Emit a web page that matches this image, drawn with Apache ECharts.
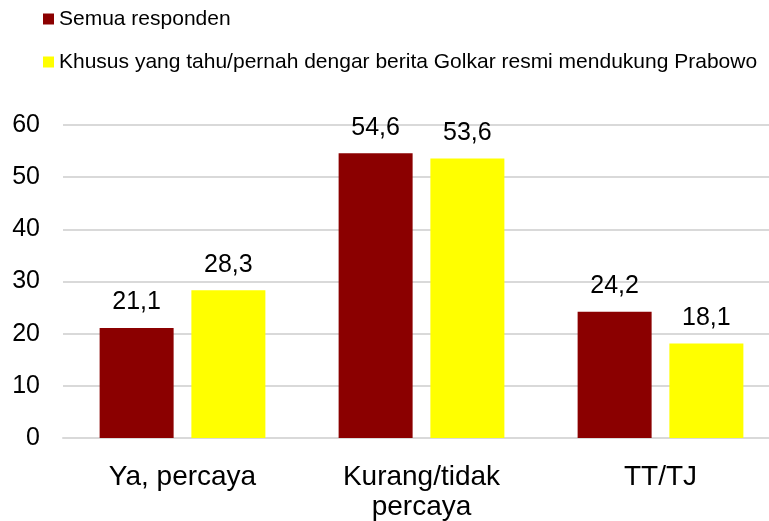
<!DOCTYPE html>
<html>
<head>
<meta charset="utf-8">
<script src="https://cdn.jsdelivr.net/npm/echarts@6/dist/echarts.min.js"></script>
<style>
  html, body { margin: 0; padding: 0; background: #fff; }
  #chart { width: 769px; height: 521px; }
</style>
</head>
<body>
<div id="chart"></div>
<script>
// --- Data ---
const categories = ['Ya, percaya', 'Kurang/tidak\npercaya', 'TT/TJ'];
const seriesNames = [
  'Semua responden',
  'Khusus yang tahu/pernah dengar berita Golkar resmi mendukung Prabowo'
];
const semuaResponden = [21.1, 54.6, 24.2];
const khususTahu = [28.3, 53.6, 18.1];
const yTicks = { min: 0, max: 60, interval: 10 };

const colors = ['#8B0000', '#FFFF00'];
const font = 'Liberation Sans, Arial, sans-serif';
const gridColor = '#D9D9D9';

function legendAt(name, top) {
  return {
    data: [name],
    left: 38,
    top: top,
    orient: 'vertical',
    icon: 'rect',
    itemWidth: 11,
    itemHeight: 11,
    itemGap: 0,
    textStyle: { fontFamily: font, fontSize: 21, color: '#000', lineHeight: 22 }
  };
}

const chart = echarts.init(document.getElementById('chart'), null, { renderer: 'canvas' });

chart.setOption({
  backgroundColor: '#fff',
  animation: false,
  color: colors,
  legend: [legendAt(seriesNames[0], 3), legendAt(seriesNames[1], 46)],
  grid: {
    left: 63, right: -11, top: 125, bottom: 83,
    containLabel: false,
    outerBoundsMode: 'none'
  },
  xAxis: {
    type: 'category',
    data: categories,
    axisTick: { show: false },
    axisLine: { lineStyle: { color: gridColor, width: 2 } },
    axisLabel: {
      interval: 0,
      margin: 24,
      fontFamily: font,
      fontSize: 28,
      lineHeight: 30,
      color: '#000'
    }
  },
  yAxis: {
    type: 'value',
    min: yTicks.min,
    max: yTicks.max,
    interval: yTicks.interval,
    axisLine: { show: false },
    axisTick: { show: false },
    splitLine: { lineStyle: { color: gridColor, width: 2 } },
    axisLabel: { margin: 23, fontFamily: font, fontSize: 25, color: '#000' }
  },
  series: [
    { name: seriesNames[0], data: semuaResponden },
    { name: seriesNames[1], data: khususTahu }
  ].map(s => ({
    type: 'bar',
    name: s.name,
    data: s.data,
    barWidth: 74,
    barGap: '24%',
    label: {
      show: true,
      position: 'top',
      distance: 13,
      fontFamily: font,
      fontSize: 25,
      color: '#000',
      formatter: p => String(p.value).replace('.', ',')
    }
  }))
});
</script>
</body>
</html>
